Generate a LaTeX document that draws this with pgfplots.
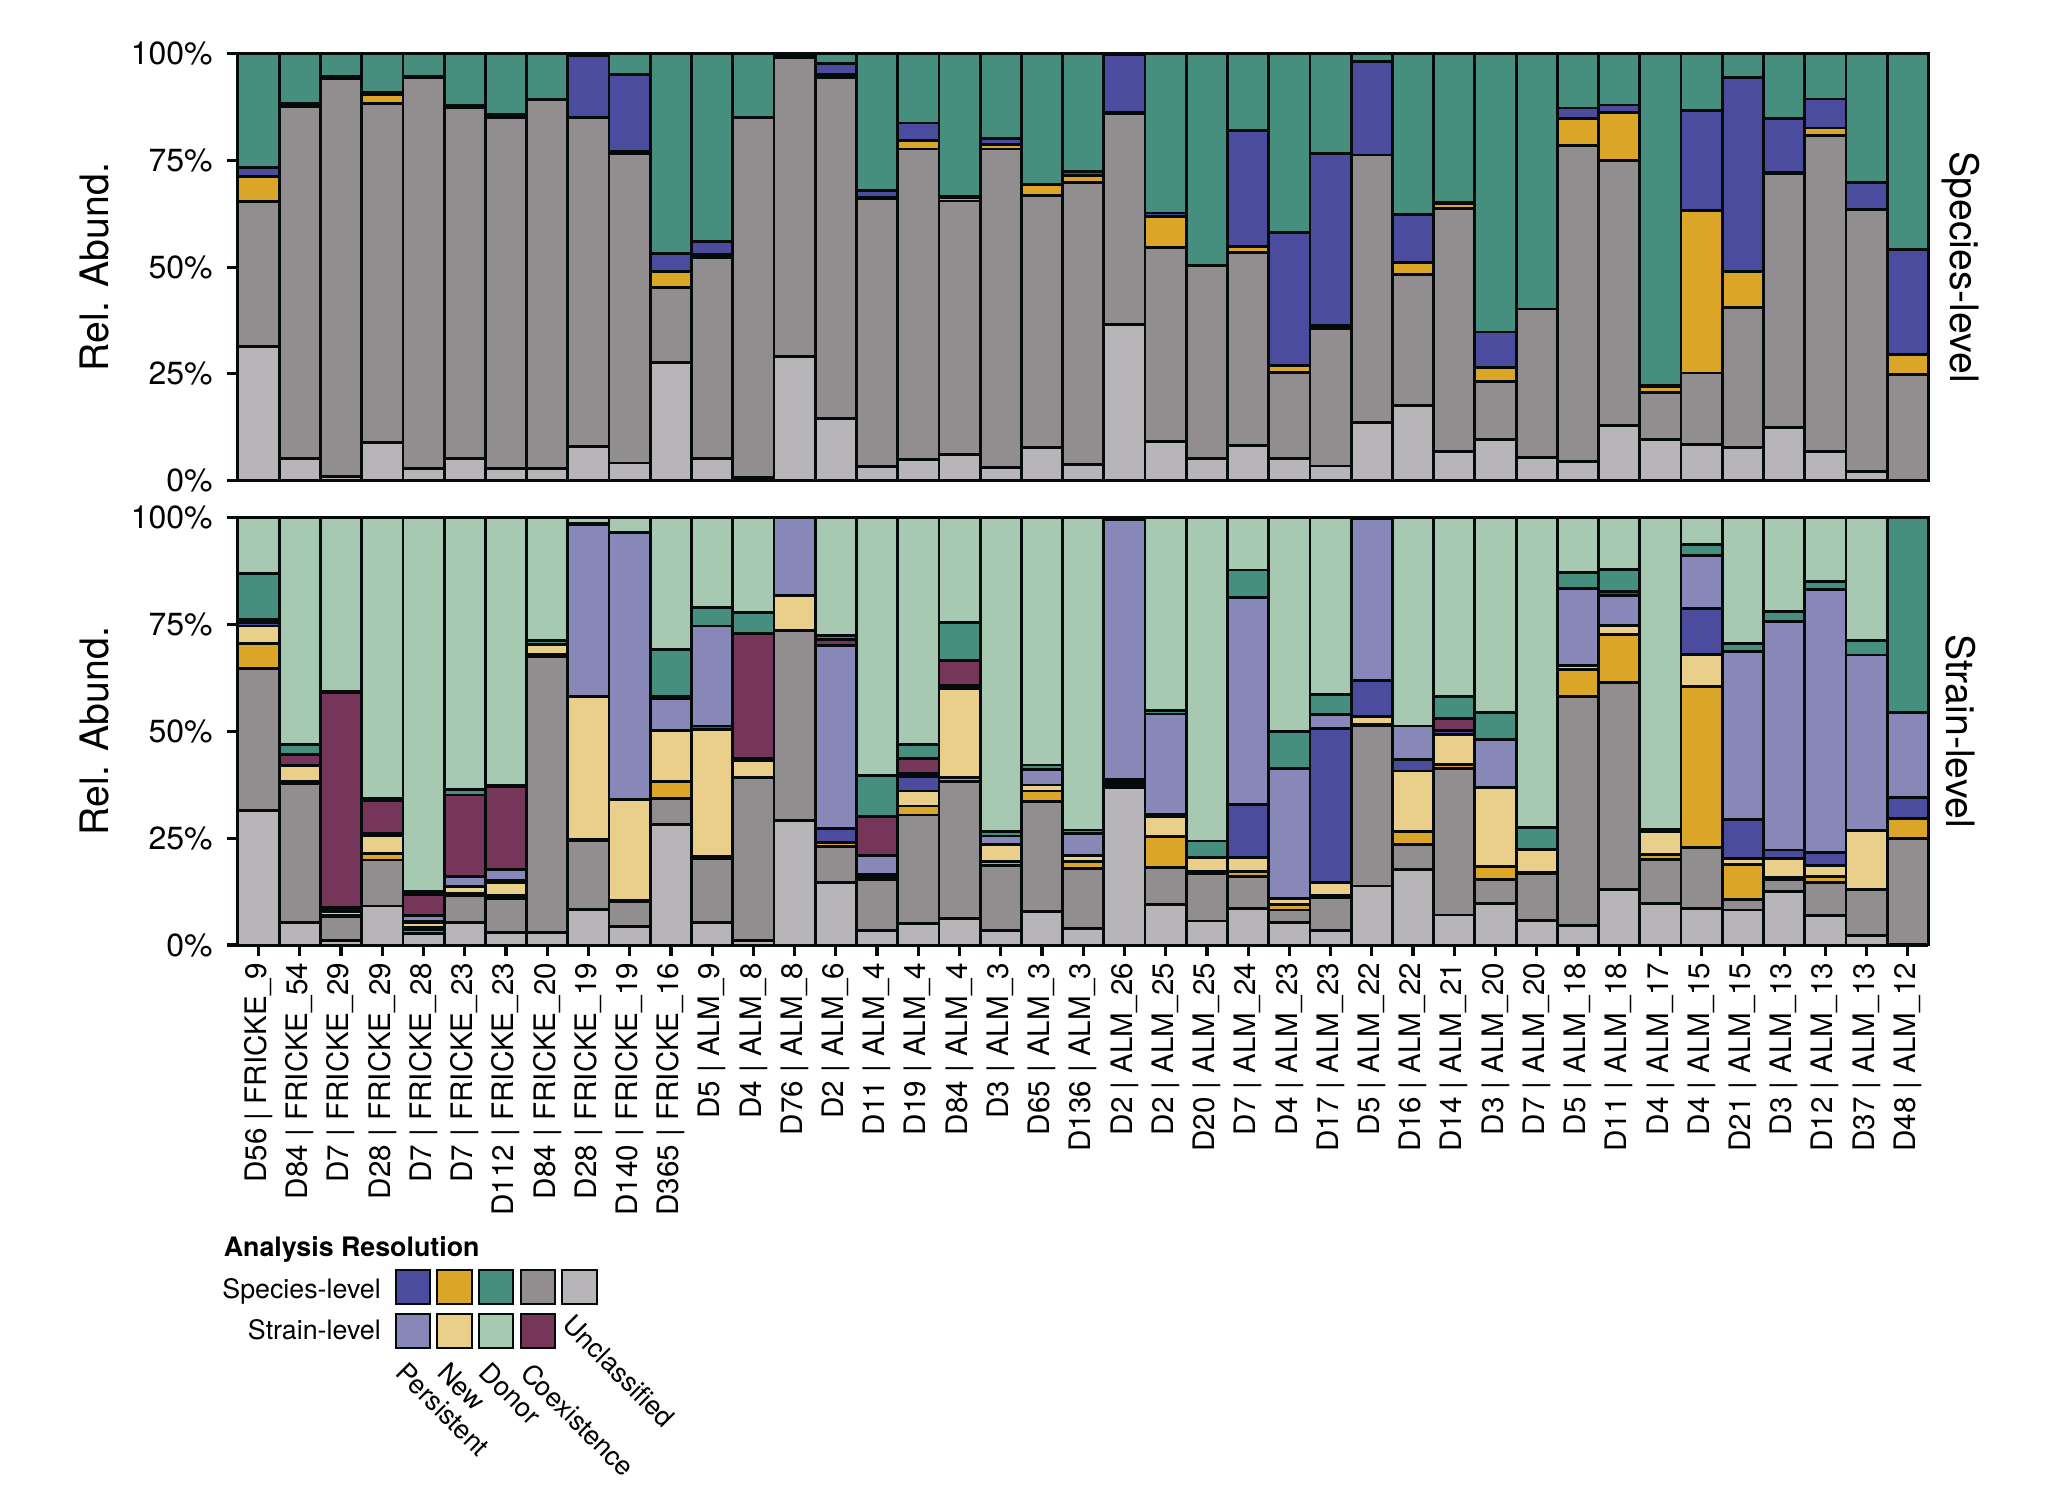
\documentclass[border=0pt]{standalone}
\usepackage{fontspec}
\setmainfont{TeX Gyre Heros}
\usepackage{pgfplots}
\usepackage{pgfplotstable}
\pgfplotsset{compat=1.18}

\definecolor{cPs}{HTML}{4B4C9E}
\definecolor{cNs}{HTML}{DBA628}
\definecolor{cDs}{HTML}{468F7F}
\definecolor{cCs}{HTML}{928E8F}
\definecolor{cUn}{HTML}{B7B5B8}
\definecolor{cPt}{HTML}{8888B8}
\definecolor{cNt}{HTML}{E9CF89}
\definecolor{cDt}{HTML}{A8C9B1}
\definecolor{cCt}{HTML}{75365A}
\definecolor{edge}{HTML}{050A0A}

% Species-level panel: U=Unclassified, C=Coexistence, N=New, P=Persistent, D=Donor
\pgfplotstableread{
x U C N P D
0 31.4 34.0 5.9 2.1 26.6
1 5.2 82.5 0.4 0.2 11.7
2 0.9 93.4 0.3 0.2 5.2
3 8.9 79.5 2.0 0.6 9.0
4 2.9 91.6 0.2 0.0 5.3
5 5.2 82.1 0.4 0.2 12.1
6 2.9 82.2 0.5 0.3 14.1
7 2.9 86.3 0.0 0.0 10.8
8 8.0 77.1 0.0 14.4 0.5
9 4.1 72.6 0.4 18.0 4.9
10 27.7 17.5 3.8 4.3 46.7
11 5.2 47.1 0.6 3.1 44.0
12 0.8 84.3 0.0 0.0 14.9
13 29.1 69.9 0.3 0.3 0.4
14 14.6 79.9 0.6 2.7 2.2
15 3.3 62.7 0.4 1.6 32.0
16 5.0 72.7 2.0 4.1 16.2
17 6.2 59.3 0.7 0.4 33.4
18 3.0 74.7 1.0 1.5 19.8
19 7.7 59.1 2.5 0.2 30.5
20 3.8 66.0 1.6 1.0 27.6
21 36.5 49.6 0.2 13.5 0.2
22 9.1 45.5 7.3 0.8 37.3
23 5.2 45.2 0.0 0.0 49.6
24 8.2 45.3 1.3 27.3 17.9
25 5.2 20.1 1.7 31.2 41.8
26 3.4 32.3 0.6 40.4 23.3
27 13.6 62.7 0.0 21.9 1.8
28 17.6 30.6 2.9 11.3 37.6
29 6.8 57.0 1.0 0.4 34.8
30 9.7 13.5 3.3 8.3 65.2
31 5.5 34.7 0.0 0.0 59.8
32 4.5 74.0 6.4 2.4 12.7
33 13.0 62.0 11.3 1.7 12.0
34 9.7 10.9 1.4 0.3 77.7
35 8.5 16.7 38.1 23.4 13.3
36 7.8 32.8 8.4 45.5 5.5
37 12.5 59.5 0.3 12.6 15.1
38 6.8 74.0 1.8 6.8 10.6
39 2.1 61.5 0.0 6.3 30.1
40 0.0 24.9 4.6 24.6 45.9
}\species

% Strain-level panel
\pgfplotstableread{
x U Cs Ns Nt Ps Pt Ct Ds Dt
0 31.4 33.3 5.8 4.1 0.9 0.7 0.0 10.7 13.1
1 5.3 32.5 0.5 3.6 0.0 0.0 2.7 2.2 53.2
2 1.0 5.6 0.3 1.0 0.6 0.4 50.1 0.4 40.6
3 9.1 10.8 1.5 4.2 0.4 0.2 7.5 0.5 65.8
4 2.7 0.9 0.4 1.3 0.3 1.3 4.9 0.8 87.4
5 5.3 6.2 0.5 1.6 0.2 2.3 19.0 1.3 63.6
6 3.0 7.9 0.6 3.2 0.3 2.7 19.3 0.3 62.7
7 3.0 64.4 0.6 2.3 0.0 0.0 0.0 1.0 28.7
8 8.3 16.0 0.3 33.5 0.0 40.1 0.0 0.4 1.4
9 4.3 5.8 0.3 23.7 0.0 62.3 0.0 0.2 3.4
10 28.1 6.2 3.9 11.9 0.0 7.6 0.5 10.9 30.9
11 5.3 15.0 0.5 29.6 0.8 23.4 0.0 4.4 21.0
12 1.0 38.2 0.0 3.9 0.0 0.5 29.3 4.9 22.2
13 29.1 44.4 0.0 8.2 0.0 18.3 0.0 0.0 0.0
14 14.7 8.3 0.9 0.0 3.4 42.8 1.4 0.8 27.7
15 3.4 12.0 0.6 0.4 0.0 4.5 9.1 9.6 60.4
16 5.1 25.3 2.1 3.5 3.4 0.8 3.4 3.3 53.1
17 6.2 32.1 0.8 20.8 0.0 0.7 5.9 8.9 24.6
18 3.4 15.2 1.0 3.9 0.0 2.0 0.0 1.0 73.5
19 7.8 25.7 2.5 1.4 0.0 3.7 0.0 1.0 57.9
20 3.9 13.9 1.7 1.5 0.0 5.1 0.0 0.8 73.1
21 36.9 0.7 0.5 0.6 0.0 60.8 0.0 0.5 0.0
22 9.5 8.6 7.2 4.7 0.6 23.4 0.0 0.8 45.2
23 5.6 11.2 0.3 3.3 0.0 0.0 0.0 3.9 75.7
24 8.6 7.4 1.1 3.3 12.5 48.4 0.0 6.4 12.3
25 5.3 2.9 1.3 1.3 0.0 30.5 0.0 8.7 50.0
26 3.4 7.7 0.5 3.1 36.0 3.2 0.0 4.6 41.5
27 13.8 37.4 0.3 1.9 8.4 38.0 0.0 0.2 0.0
28 17.7 5.8 3.0 14.2 2.7 7.8 0.0 0.0 48.8
29 7.0 34.3 0.9 7.1 0.8 0.0 2.9 5.2 41.8
30 9.7 5.7 2.9 18.6 0.0 11.2 0.0 6.3 45.6
31 5.8 10.8 0.3 5.5 0.0 0.0 0.0 5.1 72.5
32 4.5 53.7 6.3 0.8 0.0 18.1 0.0 3.7 12.9
33 13.0 48.4 11.2 2.1 0.0 7.1 0.8 5.2 12.2
34 9.7 10.3 1.2 5.3 0.0 0.0 0.0 0.6 72.9
35 8.6 14.2 37.6 7.6 10.7 12.3 0.0 2.7 6.3
36 8.2 2.5 8.2 1.4 9.1 39.2 0.0 1.9 29.5
37 12.5 2.9 0.5 4.4 1.9 53.4 0.0 2.3 22.1
38 6.9 7.7 1.5 2.5 3.0 61.6 0.0 1.9 14.9
39 2.2 10.7 0.0 13.8 0.0 41.1 0.0 3.5 28.7
40 0.2 24.7 4.7 0.0 4.9 19.9 0.0 45.6 0.0
}\strain

\pgfplotsset{
  panel/.style={
    scale only axis, width=422.6pt,
    ybar stacked, bar width=1,
    xmin=-0.5, xmax=40.5, ymin=0, ymax=100,
    enlarge x limits=false, enlarge y limits=false,
    clip=false,
    axis x line*=bottom, axis y line*=left,
    axis line style={line width=0.8pt, edge},
    tick align=outside,
    major tick length=2.8pt,
    major tick style={line width=0.8pt, edge},
    ytick={0,25,50,75,100},
    yticklabels={0\%,25\%,50\%,75\%,100\%},
    yticklabel style={font=\fontsize{8}{9}\selectfont, text=black},
    /pgf/number format/assume math mode=true,
    every axis y label/.style={at={(axis description cs:-0.0846,0.5)}, rotate=90, anchor=center, font=\fontsize{9.8}{11}\selectfont},
    ylabel={Rel. Abund.},
    every axis plot/.append style={draw=edge, line width=0.7pt},
  }
}

\begin{document}
\begin{tikzpicture}
\useasboundingbox (0,0) rectangle (514pt,375.25pt);

% ---------- Species-level panel ----------
\begin{axis}[panel, at={(59.5pt,255.1pt)}, anchor=south west, height=106.7pt,
  xtick=\empty]
\addplot[fill=cUn] table[x=x, y=U] {\species};
\addplot[fill=cCs] table[x=x, y=C] {\species};
\addplot[fill=cNs] table[x=x, y=N] {\species};
\addplot[fill=cPs] table[x=x, y=P] {\species};
\addplot[fill=cDs] table[x=x, y=D] {\species};
\node[rotate=-90, anchor=center, font=\fontsize{9.8}{11}\selectfont] at (rel axis cs:1.019,0.5) {Species-level};
\end{axis}

% ---------- Strain-level panel ----------
\begin{axis}[panel, at={(59.5pt,139pt)}, anchor=south west, height=106.9pt,
  xtick={0,1,...,40},
  xticklabels={D56 | FRICKE\_9, D84 | FRICKE\_54, D7 | FRICKE\_29, D28 | FRICKE\_29, D7 | FRICKE\_28, D7 | FRICKE\_23, D112 | FRICKE\_23, D84 | FRICKE\_20, D28 | FRICKE\_19, D140 | FRICKE\_19, D365 | FRICKE\_16, D5 | ALM\_9, D4 | ALM\_8, D76 | ALM\_8, D2 | ALM\_6, D11 | ALM\_4, D19 | ALM\_4, D84 | ALM\_4, D3 | ALM\_3, D65 | ALM\_3, D136 | ALM\_3, D2 | ALM\_26, D2 | ALM\_25, D20 | ALM\_25, D7 | ALM\_24, D4 | ALM\_23, D17 | ALM\_23, D5 | ALM\_22, D16 | ALM\_22, D14 | ALM\_21, D3 | ALM\_20, D7 | ALM\_20, D5 | ALM\_18, D11 | ALM\_18, D4 | ALM\_17, D4 | ALM\_15, D21 | ALM\_15, D3 | ALM\_13, D12 | ALM\_13, D37 | ALM\_13, D48 | ALM\_12},
  xticklabel style={rotate=90, anchor=east, font=\fontsize{7.4}{8}\selectfont, text=black, inner sep=1.5pt}]
\addplot[fill=cUn] table[x=x, y=U] {\strain};
\addplot[fill=cCs] table[x=x, y=Cs] {\strain};
\addplot[fill=cNs] table[x=x, y=Ns] {\strain};
\addplot[fill=cNt] table[x=x, y=Nt] {\strain};
\addplot[fill=cPs] table[x=x, y=Ps] {\strain};
\addplot[fill=cPt] table[x=x, y=Pt] {\strain};
\addplot[fill=cCt] table[x=x, y=Ct] {\strain};
\addplot[fill=cDs] table[x=x, y=Ds] {\strain};
\addplot[fill=cDt] table[x=x, y=Dt] {\strain};
\node[rotate=-90, anchor=center, font=\fontsize{9.8}{11}\selectfont] at (rel axis cs:1.019,0.5) {Strain-level};
\end{axis}

% ---------- Legend ----------
\begin{scope}[font=\fontsize{6.7}{8}\selectfont]
\node[anchor=base west, inner sep=0, font=\bfseries\fontsize{6.7}{8}\selectfont] at (55.75pt,61.1pt) {Analysis Resolution};
\node[anchor=mid east, inner sep=0] at (95.4pt,53.3pt) {Species-level};
\node[anchor=mid east, inner sep=0] at (95.4pt,43.1pt) {Strain-level};
\foreach \c [count=\i from 0] in {cPs,cNs,cDs,cCs,cUn}{
  \filldraw[fill=\c, draw=edge, line width=0.5pt] ({98.9pt+\i*10.42pt},49.2pt) rectangle ++(8.6pt,8.6pt);
}
\foreach \c [count=\i from 0] in {cPt,cNt,cDt,cCt}{
  \filldraw[fill=\c, draw=edge, line width=0.5pt] ({98.9pt+\i*10.42pt},38.2pt) rectangle ++(8.6pt,8.6pt);
}
\foreach \t [count=\i from 0] in {Persistent,New,Donor,Coexistence}{
  \node[rotate=-45, anchor=north west, inner sep=0] at ({102.1pt+\i*10.42pt},35.3pt) {\t};
}
\node[rotate=-45, anchor=north west, inner sep=0] at ({102.1pt+4*10.42pt},47.3pt) {Unclassified};
\end{scope}
\end{tikzpicture}
\end{document}
